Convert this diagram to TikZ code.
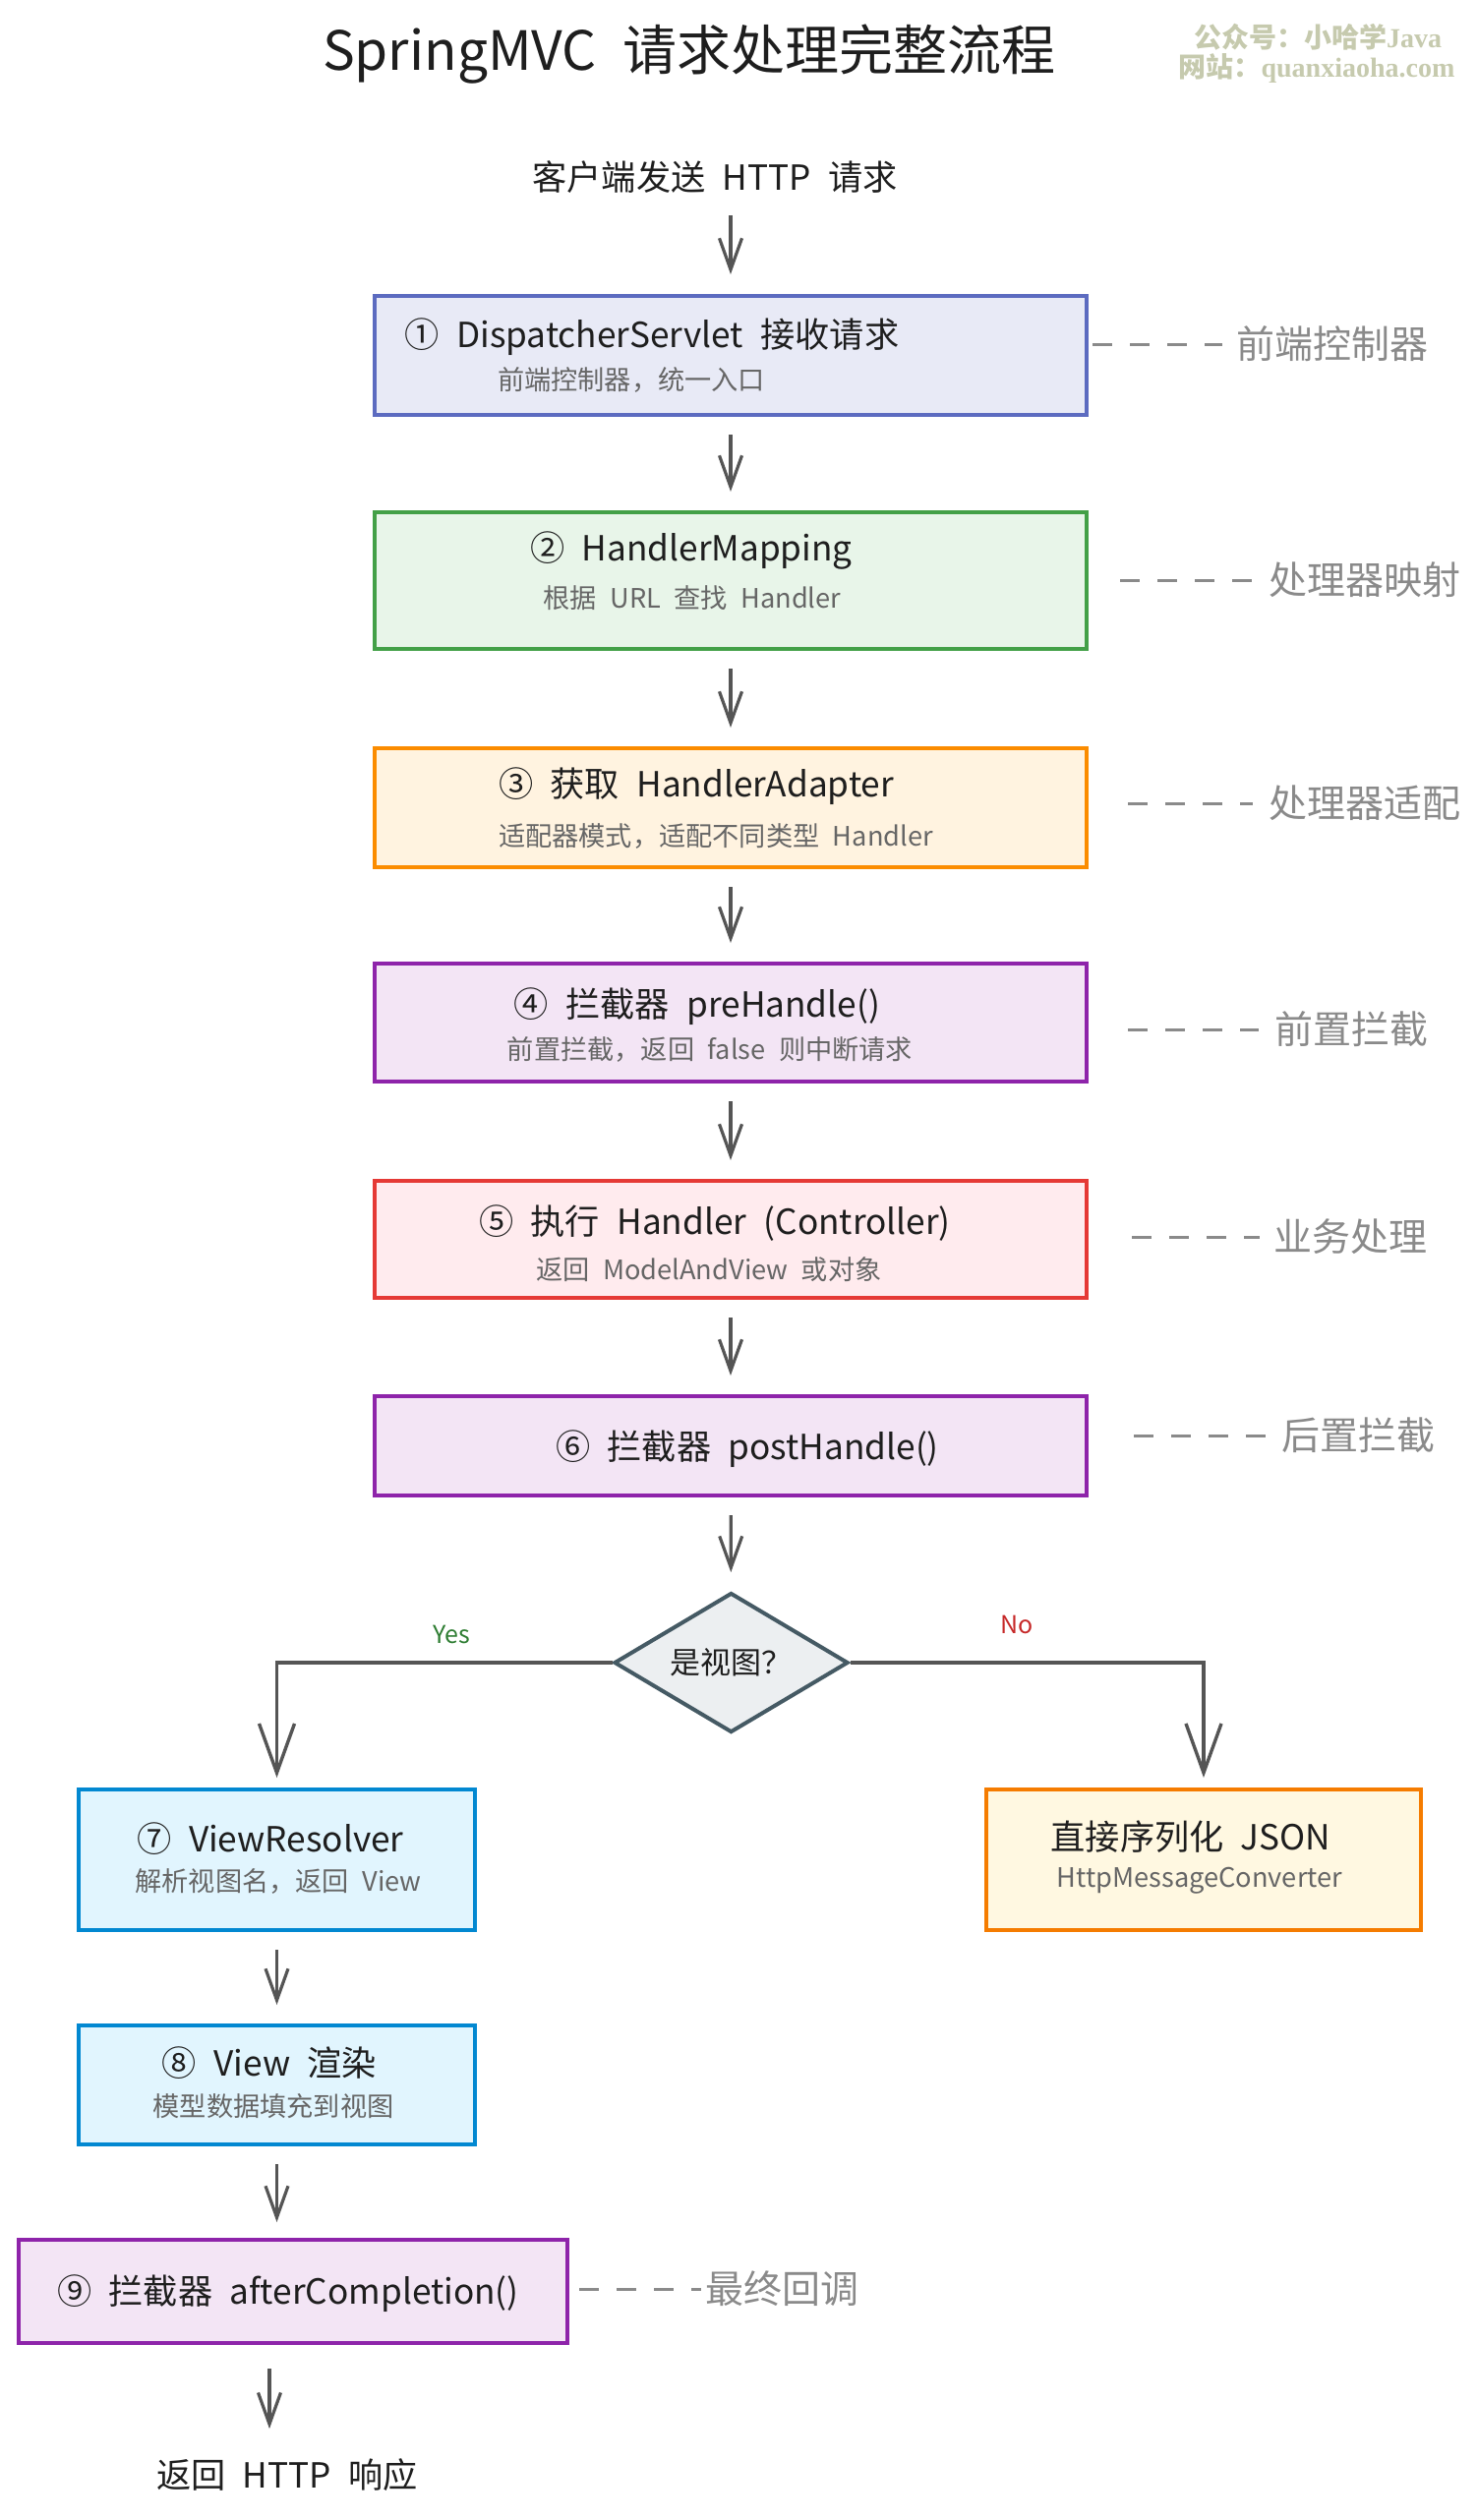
\documentclass[tikz,border=0pt]{standalone}
\usepackage{fontspec}
\setmainfont[WordSpace=2.2]{Noto Sans CJK SC}
\newfontfamily\wmlatin{Liberation Serif}
\usetikzlibrary{arrows.meta}
\usetikzlibrary{shapes.geometric}
\definecolor{inkdark}{HTML}{1E1E1E}
\definecolor{inksub}{HTML}{666666}
\definecolor{inknote}{HTML}{8A8A8A}
\definecolor{inkline}{HTML}{555555}
\definecolor{inkmark}{HTML}{C6CAAE}
\definecolor{indigoD}{HTML}{5C6BC0}
\definecolor{indigoL}{HTML}{E8EAF6}
\definecolor{greenD}{HTML}{43A047}
\definecolor{greenL}{HTML}{E8F5E9}
\definecolor{orangeD}{HTML}{FB8C00}
\definecolor{orangeL}{HTML}{FFF3E0}
\definecolor{purpleD}{HTML}{8E24AA}
\definecolor{purpleL}{HTML}{F3E5F5}
\definecolor{redD}{HTML}{E53935}
\definecolor{redL}{HTML}{FFEBEE}
\definecolor{skyD}{HTML}{0288D1}
\definecolor{skyL}{HTML}{E1F5FE}
\definecolor{amberD}{HTML}{F57C00}
\definecolor{amberL}{HTML}{FFF8E1}
\definecolor{slateD}{HTML}{455A64}
\definecolor{slateL}{HTML}{ECEFF1}
\definecolor{yesgreen}{HTML}{2E7D32}
\definecolor{nored}{HTML}{C62828}
\tikzstyle{process}=[rectangle, sharp corners, line width=2pt, minimum width=362pt, inner sep=0pt]
\tikzstyle{decide}=[diamond, aspect=3.4, line width=2pt, draw=slateD, fill=slateL,
  minimum width=119pt, minimum height=71pt, inner sep=0pt, text=inkdark, font=\fontsize{15.5}{18}\selectfont]
\tikzstyle{titletext}=[inner sep=0pt, text=inkdark, font=\fontsize{17.6}{21}\selectfont]
\tikzstyle{subtext}=[inner sep=0pt, text=inksub, font=\fontsize{13.6}{16}\selectfont]
\tikzstyle{note}=[inner sep=0pt, text=inknote, font=\fontsize{19.5}{23}\selectfont]
\tikzstyle{arrseq}=[-{Straight Barb[length=16pt, width=11.5pt]}, line width=1.6pt, draw=inkline, shorten <=9pt, shorten >=9.5pt]
\tikzstyle{arrbranch}=[-{Straight Barb[length=25pt, width=18pt]}, line width=1.7pt, draw=inkline, shorten >=5pt]
\tikzstyle{arrnote}=[line width=1.5pt, draw=inknote, dash pattern=on 10pt off 9pt]

\begin{document}
\begin{tikzpicture}[x=0.5pt, y=-0.5pt]
\useasboundingbox (0,0) rectangle (1502,2563);

\node[inner sep=0pt, text=inkdark, font=\fontsize{27.5}{32}\selectfont] (maintitle) at (701,55) {SpringMVC 请求处理完整流程};
\node[inner sep=0pt, text=inkmark, font=\fontsize{14}{17}\selectfont\bfseries] (mark1) at (1340,38) {公众号：小哈学{\wmlatin Java}};
\node[inner sep=0pt, text=inkmark, font=\fontsize{14}{17}\selectfont\bfseries] (mark2) at (1339,69) {网站：{\wmlatin quanxiaoha.com}};

\node[titletext] (request) at (727,180) {客户端发送 HTTP 请求};

% main column
\node[process, draw=indigoD, fill=indigoL, minimum height=60.5pt] (dispatcher) at (743,361.5) {};
\node[titletext] (dispatcherT) at (663,343) {① DispatcherServlet 接收请求};
\node[subtext] (dispatcherS) at (642,386) {前端控制器，统一入口};

\node[process, draw=greenD, fill=greenL, minimum height=69.5pt] (mapping) at (743,590.5) {};
\node[titletext] (mappingT) at (703,560) {② HandlerMapping};
\node[subtext] (mappingS) at (704,608) {根据 URL 查找 Handler};

\node[process, draw=orangeD, fill=orangeL, minimum height=60.5pt] (adapter) at (743,821.5) {};
\node[titletext] (adapterT) at (708,800) {③ 获取 HandlerAdapter};
\node[subtext] (adapterS) at (728,851) {适配器模式，适配不同类型 Handler};

\node[process, draw=purpleD, fill=purpleL, minimum height=60pt] (prehandle) at (743,1040) {};
\node[titletext] (prehandleT) at (709,1024) {④ 拦截器 preHandle()};
\node[subtext] (prehandleS) at (722,1067) {前置拦截，返回 false 则中断请求};

\node[process, draw=redD, fill=redL, minimum height=59.5pt] (controller) at (743,1260.5) {};
\node[titletext] (controllerT) at (727,1244) {⑤ 执行 Handler (Controller)};
\node[subtext] (controllerS) at (721,1291) {返回 ModelAndView 或对象};

\node[process, draw=purpleD, fill=purpleL, minimum height=50.5pt] (posthandle) at (743,1470.5) {};
\node[titletext] (posthandleT) at (760,1474) {⑥ 拦截器 postHandle()};

\node[decide] (isview) at (743.5,1691) {是视图？};

% left branch
\node[process, draw=skyD, fill=skyL, minimum width=201.5pt, minimum height=71.5pt] (resolver) at (281.5,1891.5) {};
\node[titletext] (resolverT) at (275,1870) {⑦ ViewResolver};
\node[subtext] (resolverS) at (283,1913) {解析视图名，返回 View};

\node[process, draw=skyD, fill=skyL, minimum width=201.5pt, minimum height=60.5pt] (render) at (281.5,2120.5) {};
\node[titletext] (renderT) at (274,2098) {⑧ View 渲染};
\node[subtext] (renderS) at (278,2142) {模型数据填充到视图};

\node[process, draw=purpleD, fill=purpleL, minimum width=279pt, minimum height=52.5pt] (completion) at (298,2330.5) {};
\node[titletext] (completionT) at (293,2333) {⑨ 拦截器 afterCompletion()};

\node[titletext] (response) at (292,2517) {返回 HTTP 响应};

% right branch
\node[process, draw=amberD, fill=amberL, minimum width=221pt, minimum height=71.5pt] (jsonbox) at (1224,1891.5) {};
\node[titletext] (jsonboxT) at (1211,1868) {直接序列化 JSON};
\node[subtext] (jsonboxS) at (1220,1913) {HttpMessageConverter};

% side notes
\node[note] (note1) at (1355,350) {前端控制器};
\node[note] (note2) at (1388,590) {处理器映射};
\node[note] (note3) at (1388,817) {处理器适配};
\node[note] (note4) at (1374,1047) {前置拦截};
\node[note] (note5) at (1373,1258) {业务处理};
\node[note] (note6) at (1381,1460) {后置拦截};
\node[note] (note7) at (795,2328) {最终回调};

\draw[arrnote, shorten <=2pt, shorten >=7pt] (dispatcher.east |- note1) -- (note1);
\draw[arrnote, shorten <=16pt, shorten >=8pt] (mapping.east |- note2) -- (note2);
\draw[arrnote, shorten <=20pt, shorten >=8pt] (adapter.east |- note3) -- (note3);
\draw[arrnote, shorten <=20pt, shorten >=8pt] (prehandle.east |- note4) -- (note4);
\draw[arrnote, shorten <=22pt, shorten >=7pt] (controller.east |- note5) -- (note5);
\draw[arrnote, shorten <=23pt, shorten >=8pt] (posthandle.east |- note6) -- (note6);
\draw[arrnote, shorten <=5pt, shorten >=2pt] (completion.east |- note7) -- (note7);

\draw[arrseq, shorten <=11pt, shorten >=10pt] (dispatcher.north |- request.south) -- (dispatcher.north);
\draw[arrseq] (dispatcher) -- (mapping);
\draw[arrseq] (mapping) -- (adapter);
\draw[arrseq] (adapter) -- (prehandle);
\draw[arrseq] (prehandle) -- (controller);
\draw[arrseq] (controller) -- (posthandle);
\draw[arrseq] (posthandle) -- (isview);
\draw[arrbranch] (isview.west) -| (resolver.north);
\draw[arrbranch] (isview.east) -| (jsonbox.north);
\draw[arrseq] (resolver) -- (render);
\draw[arrseq, shorten >=8pt] (render.south) -- (render.south |- completion.north);
\draw[arrseq, shorten <=12pt, shorten >=15pt] ([xshift=-12pt]completion.south) -- ([xshift=-9pt]response.north);

\node[inner sep=0pt, text=yesgreen, font=\fontsize{12.5}{15}\selectfont] (yeslabel) at (459,1662) {Yes};
\node[inner sep=0pt, text=nored, font=\fontsize{12.5}{15}\selectfont] (nolabel) at (1034,1652) {No};

\end{tikzpicture}
\end{document}
